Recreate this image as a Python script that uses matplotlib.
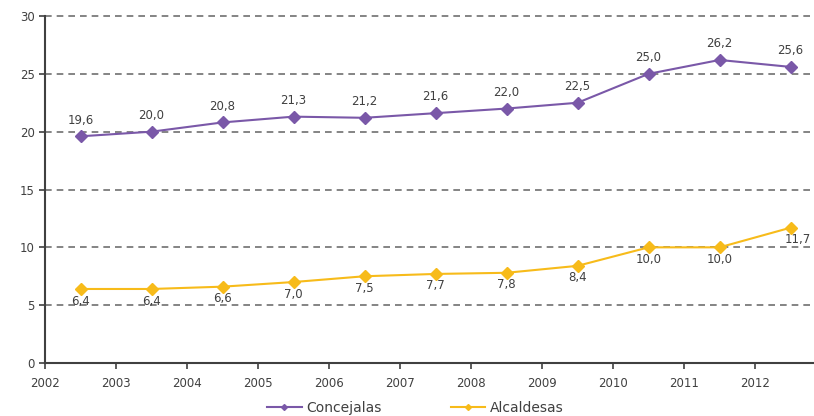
import numpy as np
import matplotlib.pyplot as plt

plt.rcParams['font.family'] = ['DejaVu Sans']

years = np.arange(2002, 2013)
x_pos = years + 0.5
concejalas = [19.6, 20.0, 20.8, 21.3, 21.2, 21.6, 22.0, 22.5, 25.0, 26.2, 25.6]
alcaldesas = [6.4, 6.4, 6.6, 7.0, 7.5, 7.7, 7.8, 8.4, 10.0, 10.0, 11.7]
year_labels = [str(y) for y in years]

purple = '#7a58a8'
gold = '#f7bb1a'
txt = '#404040'

fig = plt.figure(figsize=(8.14, 4.16), dpi=100)
ax = fig.add_axes([0.0553, 0.1274, 0.9447, 0.8341])

ax.plot(x_pos, concejalas, color=purple, marker='D', markersize=6, linewidth=1.5, label='Concejalas', zorder=3)
ax.plot(x_pos, alcaldesas, color=gold, marker='D', markersize=6, linewidth=1.5, label='Alcaldesas', zorder=3)

fmt = lambda v: '{:.1f}'.format(v).replace('.', ',')
for xv, v in zip(x_pos, concejalas):
    ax.annotate(fmt(v), (xv, v), xytext=(0, 7), textcoords='offset points',
                ha='center', va='bottom', fontsize=8.5, color=txt)
for i, (xv, v) in enumerate(zip(x_pos, alcaldesas)):
    dx = 5 if i == len(alcaldesas) - 1 else 0
    ax.annotate(fmt(v), (xv, v), xytext=(dx, -4), textcoords='offset points',
                ha='center', va='top', fontsize=8.5, color=txt)

ax.set_xlim(2002, 2012.83)
ax.set_ylim(0, 30)
ax.set_xticks(years)
ax.set_xticklabels(year_labels)
ax.set_yticks(np.arange(0, 31, 5))

for yv in np.arange(5, 31, 5):
    ax.axhline(yv, color='#707070', linestyle=(0, (4, 3)), linewidth=1.2, zorder=1, clip_on=False)

for s in ['top', 'right']:
    ax.spines[s].set_visible(False)
for s in ['left', 'bottom']:
    ax.spines[s].set_color(txt)
    ax.spines[s].set_linewidth(1.5)
ax.tick_params(axis='both', colors=txt, labelsize=8.5, length=4, width=1.2)
ax.tick_params(axis='x', pad=6)

fig.legend(loc='center', bbox_to_anchor=(0.51, 0.02), ncol=2, frameon=False,
           fontsize=10, columnspacing=5, handlelength=2.5, handletextpad=0.3,
           markerscale=0.5, labelcolor=txt)

fig.savefig('out.png', dpi=100)
